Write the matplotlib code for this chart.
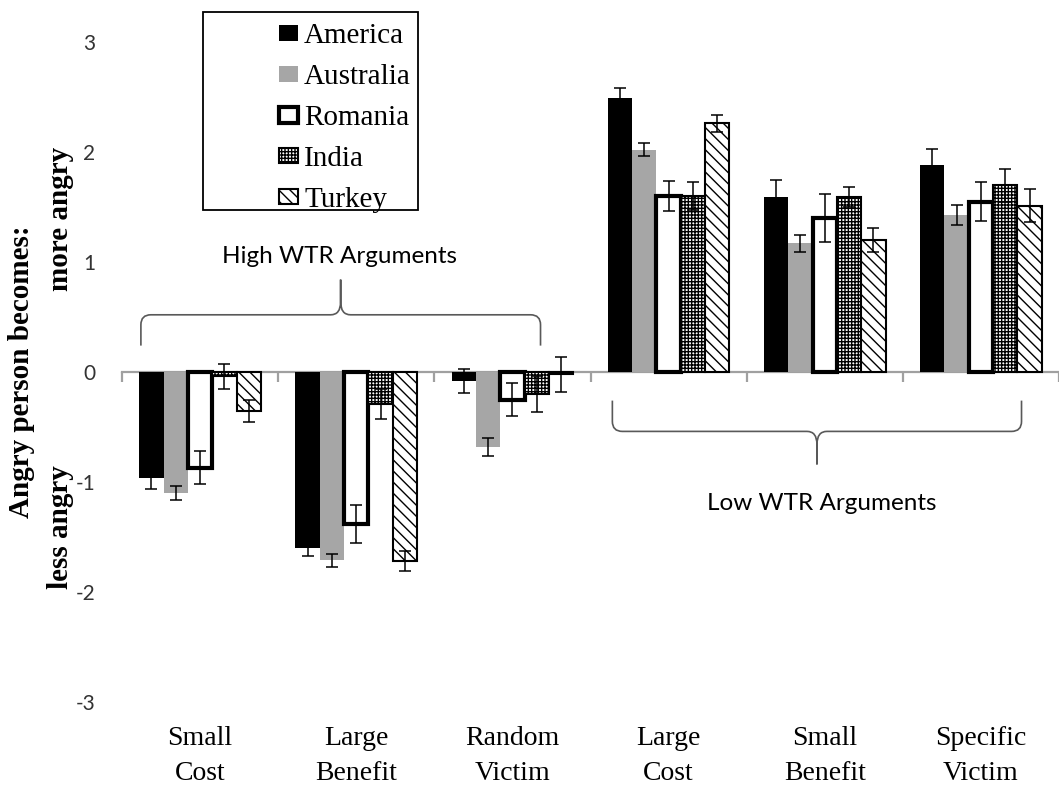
import numpy as np
import matplotlib
matplotlib.use('Agg')
import matplotlib.pyplot as plt
from matplotlib.path import Path
from matplotlib.patches import PathPatch, Rectangle

# data
categories = ['Small\nCost', 'Large\nBenefit', 'Random\nVictim',
              'Large\nCost', 'Small\nBenefit', 'Specific\nVictim']
countries = ['America', 'Australia', 'Romania', 'India', 'Turkey']

america = [-0.96, -1.60, -0.08, 2.49, 1.59, 1.88]
america_err = [0.10, 0.07, 0.11, 0.09, 0.16, 0.15]
australia = [-1.10, -1.71, -0.68, 2.02, 1.17, 1.43]
australia_err = [0.06, 0.06, 0.08, 0.06, 0.08, 0.09]
romania = [-0.87, -1.38, -0.25, 1.60, 1.40, 1.55]
romania_err = [0.15, 0.17, 0.15, 0.14, 0.22, 0.18]
india = [-0.04, -0.29, -0.20, 1.60, 1.59, 1.70]
india_err = [0.11, 0.14, 0.16, 0.13, 0.09, 0.15]
turkey = [-0.35, -1.72, -0.02, 2.26, 1.20, 1.51]
turkey_err = [0.10, 0.09, 0.16, 0.08, 0.11, 0.15]

values = [america, australia, romania, india, turkey]
errors = [america_err, australia_err, romania_err, india_err, turkey_err]

high_label = 'High WTR Arguments'
low_label = 'Low WTR Arguments'

# bar looks
styles = [
    dict(facecolor='black', edgecolor='black', linewidth=0),
    dict(facecolor='#a6a6a6', edgecolor='#a6a6a6', linewidth=0),
    dict(facecolor='white', edgecolor='black', linewidth=3.0),
    dict(facecolor='white', edgecolor='black', linewidth=1.5, hatch='+++++'),
    dict(facecolor='white', edgecolor='black', linewidth=1.5, hatch='\\\\\\'),
]

plt.rcParams['hatch.linewidth'] = 1.0
plt.rcParams['axes.unicode_minus'] = False
serif = 'Liberation Serif'
sans = 'Lato'

W, H = 1059, 789
fig = plt.figure(figsize=(W / 100, H / 100), dpi=100)
ax_w = W - 122
ax = fig.add_axes([122 / W, 87 / H, ax_w / W, 660 / H])
ax.set_xlim(0, ax_w / 157)
ax.set_ylim(-3, 3)

x = np.arange(len(categories)) + 0.5
bw = 0.156
bars = []
for i, (vals, errs, st) in enumerate(zip(values, errors, styles)):
    pos = x + (i - 2) * bw
    b = ax.bar(pos, vals, bw, zorder=2, **st)
    bars.append(b)
    ax.errorbar(pos, vals, yerr=errs, fmt='none', ecolor='black',
                elinewidth=1.1, capsize=4.5, capthick=1.1, zorder=5)

# axis at zero
for s in ['left', 'top', 'right']:
    ax.spines[s].set_visible(False)
ax.spines['bottom'].set_position(('data', 0))
ax.spines['bottom'].set_color('#a0a0a0')
ax.spines['bottom'].set_linewidth(1.6)
ax.spines['bottom'].set_zorder(1.5)
ax.set_xticks(np.arange(len(categories) + 1))
ax.set_xticklabels([])
ax.tick_params(axis='x', direction='out', length=7, width=1.6, color='#a0a0a0')
ax.set_yticks([-3, -2, -1, 0, 1, 2, 3])
ax.tick_params(axis='y', length=0, pad=19, labelsize=15, labelcolor='#333333')
for lab in ax.get_yticklabels():
    lab.set_family(sans)

for xi, cat in zip(x, categories):
    ax.text(xi, -3.49, cat, ha='center', va='center', fontsize=20,
            family=serif, linespacing=1.5, clip_on=False)

# y label
fig.text(22 / W, 1 - 372 / H, 'Angry person becomes:', rotation=90, ha='center',
         va='center', family=serif, weight='bold', fontsize=21)
fig.text(61 / W, 1 - 219 / H, 'more angry', rotation=90, ha='center',
         va='center', family=serif, weight='bold', fontsize=21)
fig.text(60 / W, 1 - 527 / H, 'less angry', rotation=90, ha='center',
         va='center', family=serif, weight='bold', fontsize=21)

# braces
ux = (ax_w / 157) / ax_w
uy = 6.0 / 660


def brace(x0, x1, xm, y_end, y_line, y_tip, r=10):
    rx, ry = r * ux, r * uy
    s = np.sign(y_tip - y_line)
    verts = [(x0, y_end), (x0, y_line - s * ry), (x0, y_line), (x0 + rx, y_line),
             (xm - rx, y_line), (xm, y_line), (xm, y_line + s * ry * 1.3),
             (xm, y_tip), (xm, y_line + s * ry * 1.3), (xm, y_line), (xm + rx, y_line),
             (x1 - rx, y_line), (x1, y_line), (x1, y_line - s * ry), (x1, y_end)]
    codes = [Path.MOVETO, Path.LINETO, Path.CURVE3, Path.CURVE3,
             Path.LINETO, Path.CURVE3, Path.CURVE3,
             Path.LINETO, Path.LINETO, Path.CURVE3, Path.CURVE3,
             Path.LINETO, Path.CURVE3, Path.CURVE3, Path.LINETO]
    ax.add_patch(PathPatch(Path(verts, codes), facecolor='none', edgecolor='#595959',
                           linewidth=1.2, clip_on=False, zorder=6))


brace(0.121, 2.68, 1.40, 0.24, 0.52, 0.84)
ax.text(1.39, 1.05, high_label, ha='center', va='center', fontsize=17.5, family=sans)
brace(3.14, 5.76, 4.45, -0.26, -0.54, -0.84)
ax.text(4.48, -1.20, low_label, ha='center', va='center', fontsize=17.5, family=sans)

# legend
fig.patches.append(Rectangle((203 / W, 1 - 210 / H), 215 / W, 198 / H,
                             transform=fig.transFigure, facecolor='white',
                             edgecolor='black', linewidth=1.3, zorder=0))
leg = fig.legend(bars, countries, loc='upper left',
                 bbox_to_anchor=(259 / W, 1 - 3 / H), frameon=False,
                 prop={'family': serif, 'size': 21}, handlelength=0.65,
                 handleheight=0.45, handletextpad=0.2, labelspacing=0.51,
                 borderpad=0.2)

fig.savefig('out.png', dpi=100)
